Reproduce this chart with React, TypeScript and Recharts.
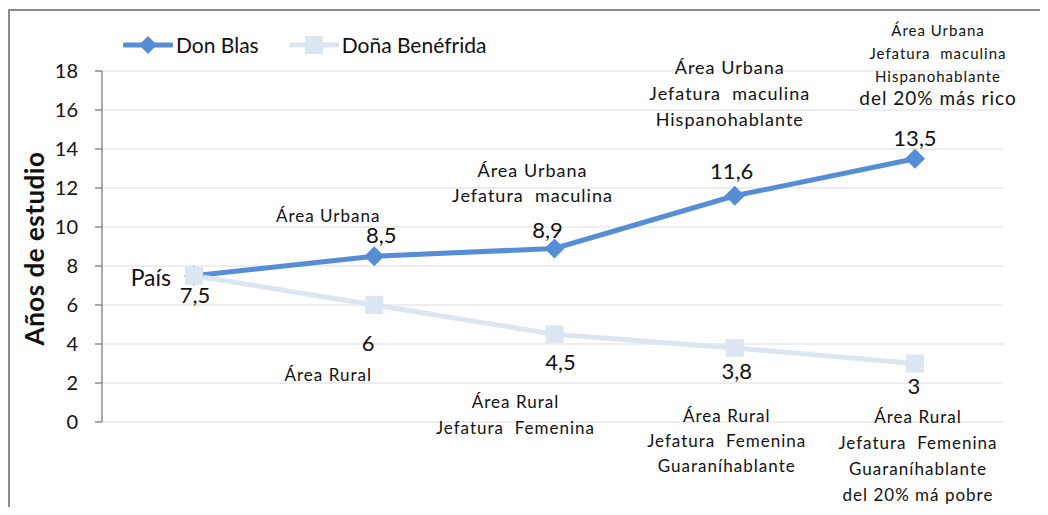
import { CartesianGrid, LabelList, Line, LineChart, XAxis, YAxis } from "recharts";

const categories = ["País", "Área", "Jefatura", "Lengua", "Quintil"];
const donBlas = [7.5, 8.5, 8.9, 11.6, 13.5];
const donaBenefrida = [7.5, 6, 4.5, 3.8, 3];
const yTicks = [0, 2, 4, 6, 8, 10, 12, 14, 16, 18];

const urbanNotes = [
  [],
  ["Área Urbana"],
  ["Área Urbana", "Jefatura  maculina"],
  ["Área Urbana", "Jefatura  maculina", "Hispanohablante"],
  ["Área Urbana", "Jefatura  maculina", "Hispanohablante", "del 20% más rico"],
];
const ruralNotes = [
  [],
  ["Área Rural"],
  ["Área Rural", "Jefatura  Femenina"],
  ["Área Rural", "Jefatura  Femenina", "Guaraníhablante"],
  ["Área Rural", "Jefatura  Femenina", "Guaraníhablante", "del 20% má pobre"],
];

const data = categories.map((name, i) => ({
  name,
  blas: donBlas[i],
  dona: donaBenefrida[i],
}));

// label placement relative to each point (layout only)
const blasValueOffset: ([number, number] | null)[] = [null, [7, -22], [-7, -19], [-3, -25], [0, -21]];
const donaValueOffset: [number, number][] = [[1, 19], [-6, 37], [6, 27], [2, 23], [-1, 22]];
type NoteLayout = { dx: number; dy: number; gap: number; size: number; lastSize?: number; lastGap?: number };
const urbanLayout: (NoteLayout | null)[] = [
  null,
  { dx: -46, dy: -41, gap: 25, size: 17 },
  { dx: -22, dy: -78, gap: 25, size: 18 },
  { dx: -5, dy: -129, gap: 26, size: 18 },
  { dx: 23, dy: -129, gap: 23, size: 15, lastSize: 19, lastGap: 22 },
];
const ruralLayout: (NoteLayout | null)[] = [
  null,
  { dx: -46, dy: 69, gap: 25, size: 17 },
  { dx: -39, dy: 67, gap: 26, size: 17 },
  { dx: -8, dy: 68, gap: 25, size: 17 },
  { dx: 3, dy: 53, gap: 26, size: 17 },
];

const FONT = "Lato, 'Noto Sans', sans-serif";
const BLUE = "#558ed5";
const PALE = "#dce6f2";

const fmt = (v: number) => String(v).replace(".", ",");

function Note({ x, y, lines, layout }: { x: number; y: number; lines: string[]; layout: NoteLayout }) {
  let cy = y + layout.dy;
  return (
    <g>
      {lines.map((line, i) => {
        const last = i === lines.length - 1 && layout.lastSize;
        if (i > 0) cy += last && layout.lastGap ? layout.lastGap : layout.gap;
        return (
          <text
            key={i}
            x={x + layout.dx}
            y={cy}
            textAnchor="middle"
            dominantBaseline="central"
            fontFamily={FONT}
            fontSize={last ? layout.lastSize : layout.size}
            letterSpacing={1}
            fill="#111"
            style={{ whiteSpace: "pre" }}
          >
            {line}
          </text>
        );
      })}
    </g>
  );
}

function BlasLabel(props: any) {
  const { x, y, index, value } = props;
  const off = blasValueOffset[index];
  const layout = urbanLayout[index];
  return (
    <g>
      {off && (
        <text x={x + off[0]} y={y + off[1]} textAnchor="middle" dominantBaseline="central" fontFamily={FONT} fontSize={22} fill="#111">
          {fmt(value)}
        </text>
      )}
      {layout && <Note x={x} y={y} lines={urbanNotes[index]} layout={layout} />}
    </g>
  );
}

function DonaLabel(props: any) {
  const { x, y, index, value } = props;
  const off = donaValueOffset[index];
  const layout = ruralLayout[index];
  return (
    <g>
      <text x={x + off[0]} y={y + off[1]} textAnchor="middle" dominantBaseline="central" fontFamily={FONT} fontSize={22} fill="#111">
        {fmt(value)}
      </text>
      {index === 0 && (
        <text x={x - 23} y={y + 1} textAnchor="end" dominantBaseline="central" fontFamily={FONT} fontSize={23} fill="#111">
          {categories[0]}
        </text>
      )}
      {layout && <Note x={x} y={y} lines={ruralNotes[index]} layout={layout} />}
    </g>
  );
}

function Diamond(props: any) {
  const { cx, cy, index } = props;
  return <path key={`d-${index}`} d={`M${cx},${cy - 10}L${cx + 10},${cy}L${cx},${cy + 10}L${cx - 10},${cy}Z`} fill={BLUE} />;
}

function Square(props: any) {
  const { cx, cy, index } = props;
  return <rect key={`s-${index}`} x={cx - 9} y={cy - 9} width={18} height={18} fill={PALE} />;
}

function YLabel(props: any) {
  const { viewBox } = props;
  const cy = viewBox.y + viewBox.height / 2 + 2;
  return (
    <text
      x={26}
      y={cy}
      transform={`rotate(-90, 26, ${cy})`}
      textAnchor="middle"
      dominantBaseline="central"
      fontFamily={FONT}
      fontSize={26}
      fontWeight={700}
      letterSpacing={0.5}
      fill="#111"
    >
      Años de estudio
    </text>
  );
}

function LegendItem({ label, color, marker }: { label: string; color: string; marker: "diamond" | "square" }) {
  return (
    <div style={{ display: "flex", alignItems: "center" }}>
      <svg width={50} height={22}>
        <line x1={2} y1={11} x2={48} y2={11} stroke={color} strokeWidth={5} strokeLinecap="round" />
        {marker === "diamond" ? (
          <path d="M25,2L34,11L25,20L16,11Z" fill={color} />
        ) : (
          <rect x={16} y={2} width={18} height={18} fill={color} />
        )}
      </svg>
      <span style={{ fontFamily: FONT, fontSize: 21, color: "#111", marginLeft: 3 }}>{label}</span>
    </div>
  );
}

export default function App() {
  return (
    <div style={{ position: "relative", width: 1040, height: 499, overflow: "hidden", background: "#fff" }}>
      <div
        style={{
          position: "absolute",
          left: 0,
          top: 1,
          width: 1100,
          height: 600,
          borderTop: "2px solid #8c8c8c",
          borderLeft: "2px solid #8c8c8c",
          pointerEvents: "none",
        }}
      />
      <div style={{ position: "absolute", left: 115, top: 24, display: "flex", gap: 30, zIndex: 2 }}>
        <LegendItem label="Don Blas" color={BLUE} marker="diamond" />
        <LegendItem label="Doña Benéfrida" color={PALE} marker="square" />
      </div>
      <LineChart width={1040} height={499} data={data} margin={{ top: 63, right: 45, bottom: 85, left: 0 }}>
        <CartesianGrid horizontal vertical={false} stroke="#e8e8e8" strokeWidth={1.5} />
        <XAxis dataKey="name" hide padding={{ left: 92, right: 88 }} />
        <YAxis
          domain={[0, 18]}
          ticks={yTicks}
          width={94}
          interval={0}
          axisLine={{ stroke: "#8c8c8c", strokeWidth: 1.5 }}
          tickLine={{ stroke: "#8c8c8c", strokeWidth: 1.5 }}
          tickSize={7}
          tickMargin={17}
          tick={{ fontFamily: FONT, fontSize: 20, fill: "#111" }}
          label={<YLabel />}
        />
        <Line dataKey="blas" stroke={BLUE} strokeWidth={5} dot={Diamond} activeDot={false} isAnimationActive={false}>
          <LabelList dataKey="blas" content={BlasLabel} />
        </Line>
        <Line dataKey="dona" stroke={PALE} strokeWidth={5} dot={Square} activeDot={false} isAnimationActive={false}>
          <LabelList dataKey="dona" content={DonaLabel} />
        </Line>
      </LineChart>
    </div>
  );
}
